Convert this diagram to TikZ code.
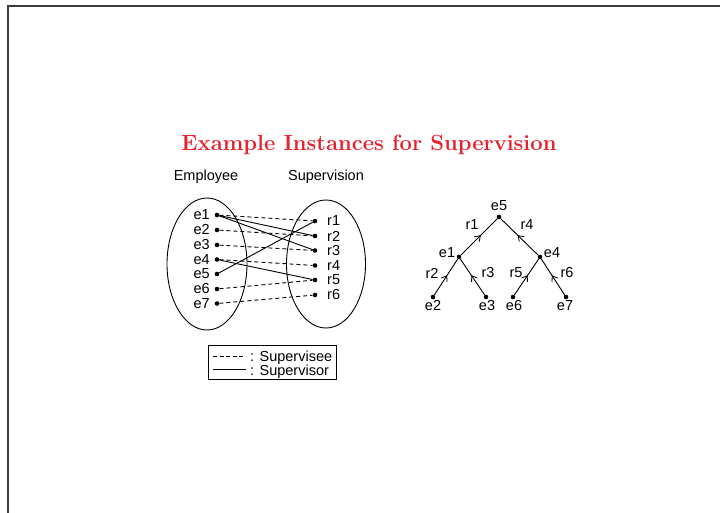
\documentclass[tikz,border=0pt]{standalone}
\usepackage{fontspec}
\setsansfont{Liberation Sans}
\usetikzlibrary{arrows.meta,decorations.markings}
\definecolor{titlered}{RGB}{232,32,44}
\definecolor{framegray}{RGB}{60,60,60}
\tikzset{
  lbl/.style={font=\sffamily\fontsize{14.5}{16}\selectfont, inner sep=0pt},
  dot/.style={circle, fill=black, inner sep=0pt, minimum size=4.6pt},
  rel/.style={line width=0.9pt},
  supervisee/.style={rel, dash pattern=on 4pt off 3pt},
  supervisor/.style={rel},
  midarrow/.style={line width=0.9pt, postaction={decorate, decoration={markings,
      mark=at position 0.55 with {\arrow{Straight Barb[length=5pt,width=7pt,line width=0.8pt]}}}}},
}
\begin{document}
\begin{tikzpicture}[x=1pt, y=-1pt]
\useasboundingbox (0,0) rectangle (720,512);
% page frame
\draw[framegray, line width=1.6pt] (8,520) -- (8,6) -- (730,6);

% title
\node[text=titlered, font=\bfseries\fontsize{22}{26}\selectfont, anchor=base] (title) at (369,150) {Example Instances for Supervision};

% set headings
\node[lbl, anchor=base] (hemp) at (206,180) {Employee};
\node[lbl, anchor=base] (hsup) at (326,180) {Supervision};

% the two sets
\draw[line width=0.9pt] (207,264) ellipse [x radius=40, y radius=66];
\draw[line width=0.9pt] (326,264) ellipse [x radius=39.5, y radius=64];

% employees
\foreach \i/\y in {1/215,2/230,3/245,4/259.5,5/274,6/289,7/303.5}{
  \node[dot] (e\i) at (217,\y) {};
  \node[lbl, anchor=east] (le\i) at (210,\y) {e\i};
}
% supervision instances
\foreach \i/\y in {1/221,2/236,3/250.5,4/265.5,5/280,6/295}{
  \node[dot] (r\i) at (315,\y) {};
  \node[lbl, anchor=west] (lr\i) at (327,\y) {r\i};
}

% supervisee links
\draw[supervisee] (e1) -- (r1);
\draw[supervisee] (e2) -- (r2);
\draw[supervisee] (e3) -- (r3);
\draw[supervisee] (e4) -- (r4);
\draw[supervisee] (e6) -- (r5);
\draw[supervisee] (e7) -- (r6);
% supervisor links
\draw[supervisor] (e1) -- (r2);
\draw[supervisor] (e1) -- (r3);
\draw[supervisor] (e5) -- (r1);
\draw[supervisor] (e4) -- (r5);

% legend
\node[draw, line width=0.8pt, minimum width=128pt, minimum height=34pt, inner sep=0pt] (legend) at (272,362.5) {};
\coordinate (la1) at (213,356);
\coordinate (lb1) at (246,356);
\coordinate (la2) at (213,369.5);
\coordinate (lb2) at (246,369.5);
\draw[line width=0.7pt, dash pattern=on 4pt off 2.6pt] (la1) -- (lb1);
\draw[line width=0.9pt] (la2) -- (lb2);
\node[lbl, anchor=base west] (lt1) at (250,361) {: Supervisee};
\node[lbl, anchor=base west] (lt2) at (250,375) {: Supervisor};

% supervision tree
\node[dot] (t5) at (499,217) {};
\node[dot] (t1) at (459,257) {};
\node[dot] (t4) at (540,257) {};
\node[dot] (t2) at (433,297) {};
\node[dot] (t3) at (486,297) {};
\node[dot] (t6) at (513,297) {};
\node[dot] (t7) at (566,297) {};

\node[lbl] (lt5) at (499,206) {e5};
\node[lbl] (ltt1) at (447,253) {e1};
\node[lbl] (ltt4) at (552,253) {e4};
\node[lbl] (ltt2) at (433,306) {e2};
\node[lbl] (ltt3) at (487,306) {e3};
\node[lbl] (ltt6) at (514,306) {e6};
\node[lbl] (ltt7) at (565,306) {e7};

\draw[midarrow] (t1) -- (t5);
\draw[midarrow] (t4) -- (t5);
\draw[midarrow] (t2) -- (t1);
\draw[midarrow] (t3) -- (t1);
\draw[midarrow] (t6) -- (t4);
\draw[midarrow] (t7) -- (t4);

\node[lbl] (er1) at (472,225) {r1};
\node[lbl] (er4) at (527,225) {r4};
\node[lbl] (er2) at (432,273) {r2};
\node[lbl] (er3) at (488,273) {r3};
\node[lbl] (er5) at (516,273) {r5};
\node[lbl] (er6) at (567,273) {r6};
\end{tikzpicture}
\end{document}
